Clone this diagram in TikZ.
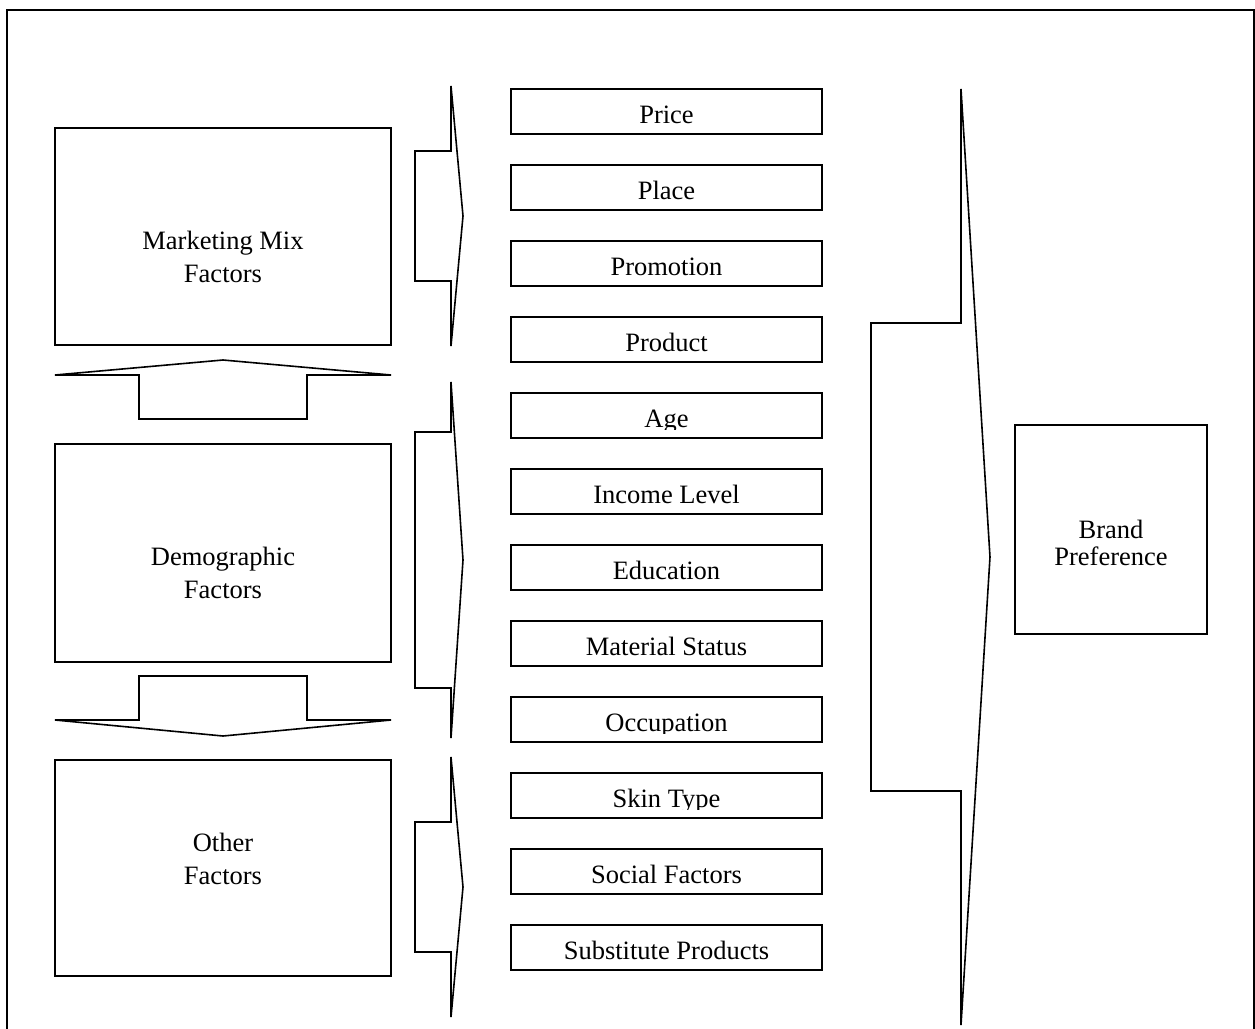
\documentclass[tikz,border=0pt]{standalone}
\usepackage{fontspec}
\setmainfont{Liberation Serif}
\usepackage{tikz}

\begin{document}
\begin{tikzpicture}[x=0.5pt, y=-0.5pt, line join=miter,
		bigbox/.style={draw, line width=.9pt, minimum width=168pt, inner sep=0pt},
		itembox/.style={draw, line width=.9pt, minimum width=155.5pt, minimum height=22.5pt, inner sep=0pt},
		blockarrow/.style={draw, line width=.8pt},
		txt/.style={font=\fontsize{13.25}{16.5}\selectfont, inner sep=0pt, anchor=base}]
			\useasboundingbox (0,0) rectangle (1255,1029);
			\draw[line width=1pt] (7,1029) |- (1254,10) -- (1254,1029);
			% left factor boxes
			\node[bigbox, minimum height=108.5pt] (mix) at (223,236.5) {};
			\node[bigbox, minimum height=109pt] (demo) at (223,553) {};
			\node[bigbox, minimum height=108pt] (other) at (223,868) {};
			\node[txt] (mixa) at (223,249) {Marketing Mix};
			\node[txt] (mixb) at (223,282) {Factors};
			\node[txt] (demoa) at (223,565) {Demographic};
			\node[txt] (demob) at (223,598) {Factors};
			\node[txt] (othera) at (223,851) {Other};
			\node[txt] (otherb) at (223,884) {Factors};
			% up and down arrows between the boxes
			\draw[blockarrow] (55,375) -- (223,360) -- (391,375) -- (307,375) -- (307,419) -- (139,419) -- (139,375) -- cycle;
			\draw[blockarrow] (55,720) -- (223,736) -- (391,720) -- (307,720) -- (307,676) -- (139,676) -- (139,720) -- cycle;
			% arrows to the item lists
			\foreach \t/\s/\e/\b in {86/151/281/346, 382/432/688/738, 757/822/952/1017}{
				\pgfmathsetmacro\m{(\t+\b)/2}
				\draw[blockarrow] (451,\t) -- (463,\m) -- (451,\b) -- (451,\e) -- (415,\e) -- (415,\s) -- (451,\s) -- cycle;
			}
			% item boxes
			\foreach \name [count=\i from 0] in {Price, Place, Promotion, Product, Age, Income Level, Education, Material Status, Occupation, Skin Type, Social Factors, Substitute Products}{
				\pgfmathsetmacro\top{89+76*\i}
				\node[itembox] (item\i) at (666.5,\top+22.5) {};
				\begin{scope}
					\clip (511,\top) rectangle (822,\top+36);
					\node[txt] (itemtxt\i) at (666.5,\top+34) {\name};
				\end{scope}
			}
			% big arrow to brand preference
			\draw[blockarrow] (961,89) -- (990,557) -- (961,1025) -- (961,791) -- (871,791) -- (871,323) -- (961,323) -- cycle;
			\node[draw, line width=.9pt, minimum width=96pt, minimum height=104.5pt, inner sep=0pt] (brand) at (1111,529.5) {};
			\node[txt] (branda) at (1111,538) {Brand};
			\node[txt] (brandb) at (1111,565) {Preference};
		\end{tikzpicture}
\end{document}
